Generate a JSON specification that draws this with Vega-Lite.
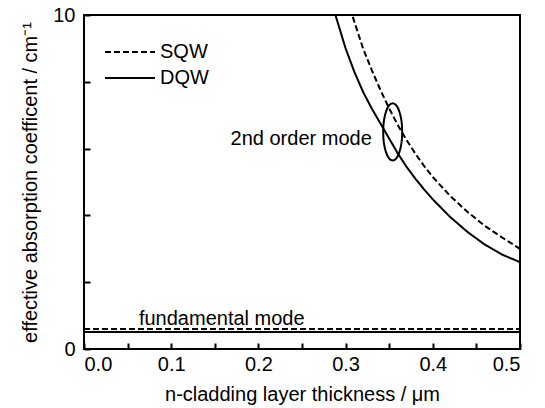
{
  "$schema": "https://vega.github.io/schema/vega-lite/v6.json",
  "width": 436,
  "height": 334,
  "autosize": {"type": "none"},
  "padding": {"left": 84, "top": 15, "right": 25, "bottom": 59},
  "config": {
    "view": {"stroke": "black", "strokeWidth": 2},
    "axisX": {
      "orient": "bottom",
      "values": [0, 0.05, 0.1, 0.15, 0.2, 0.25, 0.3, 0.35, 0.4, 0.45, 0.5],
      "grid": false,
      "domain": false,
      "tickSize": -6,
      "tickWidth": 2,
      "tickColor": "black",
      "labelPadding": 11,
      "labelFont": "Liberation Sans",
      "labelFontSize": 20,
      "labelColor": "black",
      "titleFont": "Liberation Sans",
      "titleFontSize": 20,
      "titleFontWeight": "normal",
      "titleColor": "black",
      "titlePadding": 10
    },
    "axisY": {
      "grid": false,
      "domain": false,
      "tickSize": -6,
      "tickWidth": 2,
      "tickColor": "black",
      "labelPadding": 15,
      "labelFont": "Liberation Sans",
      "labelFontSize": 20,
      "labelColor": "black",
      "titleFont": "Liberation Sans",
      "titleFontSize": 20,
      "titleFontWeight": "normal",
      "titleColor": "black",
      "titlePadding": 12
    }
  },
  "datasets": {
    "curves": [
      {"x": 0.0, "y": 0.6, "qw": "SQW", "mode": "SQW fundamental"},
      {"x": 0.5, "y": 0.6, "qw": "SQW", "mode": "SQW fundamental"},
      {"x": 0.0, "y": 0.51, "qw": "DQW", "mode": "DQW fundamental"},
      {"x": 0.5, "y": 0.51, "qw": "DQW", "mode": "DQW fundamental"},
      {"x": 0.305, "y": 10.2, "qw": "SQW", "mode": "SQW 2nd"},
      {"x": 0.32, "y": 9.0, "qw": "SQW", "mode": "SQW 2nd"},
      {"x": 0.33, "y": 8.35, "qw": "SQW", "mode": "SQW 2nd"},
      {"x": 0.34, "y": 7.75, "qw": "SQW", "mode": "SQW 2nd"},
      {"x": 0.35, "y": 7.2, "qw": "SQW", "mode": "SQW 2nd"},
      {"x": 0.36, "y": 6.7, "qw": "SQW", "mode": "SQW 2nd"},
      {"x": 0.37, "y": 6.25, "qw": "SQW", "mode": "SQW 2nd"},
      {"x": 0.38, "y": 5.85, "qw": "SQW", "mode": "SQW 2nd"},
      {"x": 0.39, "y": 5.48, "qw": "SQW", "mode": "SQW 2nd"},
      {"x": 0.40, "y": 5.15, "qw": "SQW", "mode": "SQW 2nd"},
      {"x": 0.42, "y": 4.58, "qw": "SQW", "mode": "SQW 2nd"},
      {"x": 0.44, "y": 4.1, "qw": "SQW", "mode": "SQW 2nd"},
      {"x": 0.46, "y": 3.68, "qw": "SQW", "mode": "SQW 2nd"},
      {"x": 0.48, "y": 3.33, "qw": "SQW", "mode": "SQW 2nd"},
      {"x": 0.50, "y": 3.0, "qw": "SQW", "mode": "SQW 2nd"},
      {"x": 0.286, "y": 10.2, "qw": "DQW", "mode": "DQW 2nd"},
      {"x": 0.30, "y": 9.0, "qw": "DQW", "mode": "DQW 2nd"},
      {"x": 0.31, "y": 8.3, "qw": "DQW", "mode": "DQW 2nd"},
      {"x": 0.32, "y": 7.7, "qw": "DQW", "mode": "DQW 2nd"},
      {"x": 0.33, "y": 7.2, "qw": "DQW", "mode": "DQW 2nd"},
      {"x": 0.34, "y": 6.75, "qw": "DQW", "mode": "DQW 2nd"},
      {"x": 0.35, "y": 6.3, "qw": "DQW", "mode": "DQW 2nd"},
      {"x": 0.36, "y": 5.85, "qw": "DQW", "mode": "DQW 2nd"},
      {"x": 0.37, "y": 5.45, "qw": "DQW", "mode": "DQW 2nd"},
      {"x": 0.38, "y": 5.1, "qw": "DQW", "mode": "DQW 2nd"},
      {"x": 0.39, "y": 4.78, "qw": "DQW", "mode": "DQW 2nd"},
      {"x": 0.40, "y": 4.48, "qw": "DQW", "mode": "DQW 2nd"},
      {"x": 0.42, "y": 3.95, "qw": "DQW", "mode": "DQW 2nd"},
      {"x": 0.44, "y": 3.5, "qw": "DQW", "mode": "DQW 2nd"},
      {"x": 0.46, "y": 3.12, "qw": "DQW", "mode": "DQW 2nd"},
      {"x": 0.48, "y": 2.82, "qw": "DQW", "mode": "DQW 2nd"},
      {"x": 0.50, "y": 2.6, "qw": "DQW", "mode": "DQW 2nd"}
    ],
    "ellipse": [
      {"x": 0.3649, "y": 6.5, "ord": 0},
      {"x": 0.3641, "y": 6.828, "ord": 1},
      {"x": 0.3617, "y": 7.105, "ord": 2},
      {"x": 0.3582, "y": 7.291, "ord": 3},
      {"x": 0.354, "y": 7.356, "ord": 4},
      {"x": 0.3498, "y": 7.291, "ord": 5},
      {"x": 0.3463, "y": 7.105, "ord": 6},
      {"x": 0.3439, "y": 6.828, "ord": 7},
      {"x": 0.3431, "y": 6.5, "ord": 8},
      {"x": 0.3439, "y": 6.172, "ord": 9},
      {"x": 0.3463, "y": 5.895, "ord": 10},
      {"x": 0.3498, "y": 5.709, "ord": 11},
      {"x": 0.354, "y": 5.644, "ord": 12},
      {"x": 0.3582, "y": 5.709, "ord": 13},
      {"x": 0.3617, "y": 5.895, "ord": 14},
      {"x": 0.3641, "y": 6.172, "ord": 15}
    ],
    "labels": [
      {"x": 0.330, "y": 6.3, "text": "2nd order mode", "align": "right"},
      {"x": 0.063, "y": 0.72, "text": "fundamental mode", "align": "left"}
    ]
  },
  "layer": [
    {
      "data": {"name": "curves"},
      "mark": {"type": "line", "clip": true, "strokeWidth": 2, "color": "black"},
      "encoding": {
        "x": {
          "field": "x", "type": "quantitative",
          "scale": {"domain": [0, 0.5], "nice": false, "zero": false},
          "axis": {
            "values": [0, 0.05, 0.1, 0.15, 0.2, 0.25, 0.3, 0.35, 0.4, 0.45, 0.5],
            "labelExpr": "abs(datum.value*10 - round(datum.value*10)) < 0.001 ? format(datum.value, '.1f') : ''",
            "title": "n-cladding layer thickness / μm"
          }
        },
        "y": {
          "field": "y", "type": "quantitative",
          "scale": {"domain": [0, 10], "nice": false},
          "axis": {
            "values": [0, 1, 2, 3, 4, 5, 6, 7, 8, 9, 10],
            "tickCount": 10,
            "labelExpr": "datum.value % 5 == 0 ? datum.label : ''",
            "title": "effective absorption coefficent / cm⁻¹"
          }
        },
        "strokeDash": {
          "field": "qw", "type": "nominal",
          "scale": {"domain": ["SQW", "DQW"], "range": [[6, 3], [1, 0]]},
          "legend": {
            "orient": "none",
            "legendX": 20,
            "legendY": 25,
            "title": null,
            "symbolType": "stroke",
            "symbolSize": 2500,
            "symbolStrokeWidth": 2,
            "symbolStrokeColor": "black",
            "labelFontSize": 20,
            "labelFont": "Liberation Sans",
            "labelColor": "black",
            "labelOffset": 4,
            "clipHeight": 24,
            "rowPadding": 2
          }
        },
        "detail": {"field": "mode", "type": "nominal"}
      }
    },
    {
      "data": {"name": "ellipse"},
      "mark": {"type": "line", "interpolate": "cardinal-closed", "strokeWidth": 2, "color": "black"},
      "encoding": {
        "x": {
          "field": "x", "type": "quantitative",
          "axis": {
            "values": [0, 0.05, 0.1, 0.15, 0.2, 0.25, 0.3, 0.35, 0.4, 0.45, 0.5],
            "labelExpr": "abs(datum.value*10 - round(datum.value*10)) < 0.001 ? format(datum.value, '.1f') : ''",
            "title": "n-cladding layer thickness / μm"
          }
        },
        "y": {
          "field": "y", "type": "quantitative",
          "axis": {
            "values": [0, 1, 2, 3, 4, 5, 6, 7, 8, 9, 10],
            "tickCount": 10,
            "labelExpr": "datum.value % 5 == 0 ? datum.label : ''",
            "title": "effective absorption coefficent / cm⁻¹"
          }
        },
        "order": {"field": "ord", "type": "quantitative"}
      }
    },
    {
      "data": {"name": "labels"},
      "transform": [{"filter": "datum.align == 'right'"}],
      "mark": {"type": "text", "align": "right", "baseline": "middle", "fontSize": 20, "font": "Liberation Sans", "color": "black"},
      "encoding": {
        "x": {
          "field": "x", "type": "quantitative",
          "axis": {
            "values": [0, 0.05, 0.1, 0.15, 0.2, 0.25, 0.3, 0.35, 0.4, 0.45, 0.5],
            "labelExpr": "abs(datum.value*10 - round(datum.value*10)) < 0.001 ? format(datum.value, '.1f') : ''",
            "title": "n-cladding layer thickness / μm"
          }
        },
        "y": {
          "field": "y", "type": "quantitative",
          "axis": {
            "values": [0, 1, 2, 3, 4, 5, 6, 7, 8, 9, 10],
            "tickCount": 10,
            "labelExpr": "datum.value % 5 == 0 ? datum.label : ''",
            "title": "effective absorption coefficent / cm⁻¹"
          }
        },
        "text": {"field": "text"}
      }
    },
    {
      "data": {"name": "labels"},
      "transform": [{"filter": "datum.align == 'left'"}],
      "mark": {"type": "text", "align": "left", "baseline": "alphabetic", "fontSize": 20, "font": "Liberation Sans", "color": "black"},
      "encoding": {
        "x": {
          "field": "x", "type": "quantitative",
          "axis": {
            "values": [0, 0.05, 0.1, 0.15, 0.2, 0.25, 0.3, 0.35, 0.4, 0.45, 0.5],
            "labelExpr": "abs(datum.value*10 - round(datum.value*10)) < 0.001 ? format(datum.value, '.1f') : ''",
            "title": "n-cladding layer thickness / μm"
          }
        },
        "y": {
          "field": "y", "type": "quantitative",
          "axis": {
            "values": [0, 1, 2, 3, 4, 5, 6, 7, 8, 9, 10],
            "tickCount": 10,
            "labelExpr": "datum.value % 5 == 0 ? datum.label : ''",
            "title": "effective absorption coefficent / cm⁻¹"
          }
        },
        "text": {"field": "text"}
      }
    }
  ]
}
